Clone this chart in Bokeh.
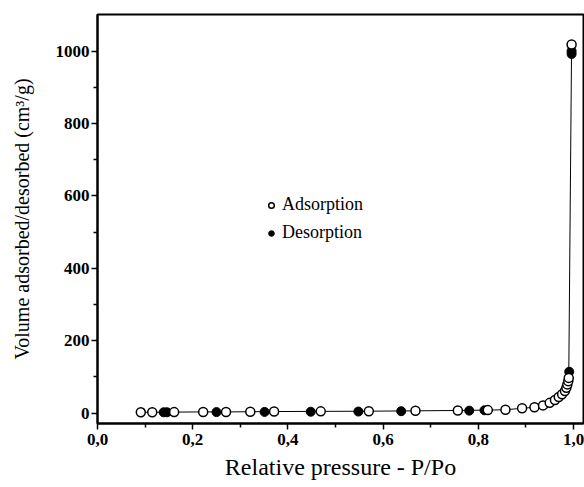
from bokeh.plotting import figure
from bokeh.models import Range1d, FixedTicker, Legend, LegendItem
from bokeh.embed import file_html
from bokeh.resources import INLINE

# Adsorption branch (open circles)
x_ads = [0.091, 0.115, 0.161, 0.222, 0.270, 0.321, 0.371, 0.469, 0.570, 0.668, 0.757,
         0.820, 0.857, 0.892, 0.918, 0.936, 0.950, 0.961, 0.969, 0.976, 0.982, 0.985,
         0.987, 0.989, 0.990, 0.996]
y_ads = [2, 2, 2.5, 3, 3, 3.5, 4, 4.5, 5, 6, 7, 8, 9, 13, 16, 21, 28, 36, 44, 52, 61, 70,
         79, 88, 97, 1018]

# Desorption branch (filled circles)
x_des = [0.996, 0.996, 0.991, 0.813, 0.781, 0.638, 0.548, 0.448, 0.351, 0.250, 0.146, 0.139]
y_des = [1000, 992, 114, 7.5, 6.5, 5, 4, 3.5, 3, 2.5, 2, 2]

x_ticks = [0.0, 0.2, 0.4, 0.6, 0.8, 1.0]
x_tick_labels = ["0,0", "0,2", "0,4", "0,6", "0,8", "1,0"]
y_ticks = [0, 200, 400, 600, 800, 1000]

FONT = "Liberation Serif"

p = figure(width=584, height=487, output_backend="svg", toolbar_location=None,
           x_range=Range1d(0.0, 1.021), y_range=Range1d(-29, 1101),
           min_border_left=97, min_border_right=1, min_border_top=14, min_border_bottom=64)
p.background_fill_color = "white"
p.border_fill_color = "white"
p.outline_line_color = "black"
p.outline_line_width = 2
p.xgrid.visible = False
p.ygrid.visible = False

p.line(x_ads, y_ads, line_color="black", line_width=1)
r_des = p.scatter(x_des, y_des, size=9, marker="circle", fill_color="black",
                  line_color="black", line_width=1)
r_ads = p.scatter(x_ads, y_ads, size=9, marker="circle", fill_color="white",
                  line_color="black", line_width=1.5)

xa = p.xaxis[0]
xa.ticker = FixedTicker(ticks=x_ticks, minor_ticks=[0.1, 0.3, 0.5, 0.7, 0.9])
xa.major_label_overrides = {t: l for t, l in zip(x_ticks, x_tick_labels)}
xa.axis_label = "Relative pressure - P/Po"

ya = p.yaxis[0]
ya.ticker = FixedTicker(ticks=y_ticks, minor_ticks=[100, 300, 500, 700, 900])
ya.axis_label = "Volume adsorbed/desorbed (cm³/g)"

for ax in (xa, ya):
    ax.axis_line_color = "black"
    ax.axis_line_width = 2
    ax.major_tick_line_color = "black"
    ax.major_tick_line_width = 1.5
    ax.minor_tick_line_color = "black"
    ax.minor_tick_line_width = 1.5
    ax.major_tick_in = 0
    ax.major_tick_out = 6
    ax.minor_tick_in = 0
    ax.minor_tick_out = 4
    ax.major_label_text_font = FONT
    ax.major_label_text_font_size = "17px"
    ax.major_label_text_font_style = "bold"
    ax.major_label_text_color = "black"
    ax.axis_label_text_font = FONT
    ax.axis_label_text_font_style = "normal"
    ax.axis_label_text_color = "black"

xa.axis_label_text_font_size = "24px"
ya.axis_label_text_font_size = "20px"
xa.major_label_standoff = 4
xa.axis_label_standoff = 6
ya.major_label_standoff = 2
ya.axis_label_standoff = 20

legend = Legend(items=[LegendItem(label="Adsorption", renderers=[r_ads]),
                       LegendItem(label="Desorption", renderers=[r_des])],
                location=(167, 180), orientation="vertical")
legend.background_fill_alpha = 0
legend.border_line_color = None
legend.padding = 0
legend.margin = 0
legend.spacing = 7
legend.glyph_width = 14
legend.glyph_height = 20
legend.label_height = 20
legend.label_standoff = 4
legend.label_text_font = FONT
legend.label_text_font_size = "18px"
legend.label_text_color = "black"
p.add_layout(legend, "center")

open("out.html", "w").write(file_html(p, INLINE))
